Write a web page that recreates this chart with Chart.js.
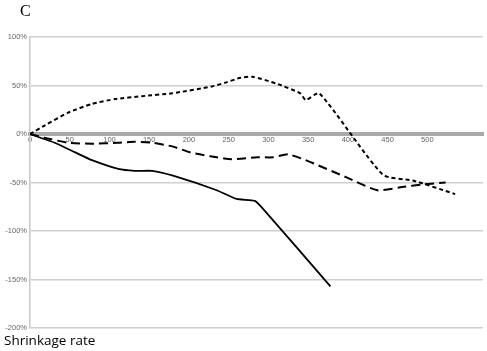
<!DOCTYPE html>
<html lang="en">
<head>
  <meta charset="UTF-8" />
  <title>Shrinkage rate - C</title>
  <script src="https://cdn.jsdelivr.net/npm/chart.js"></script>
  <style>
    body { margin: 0; background: #fff; }
    .wrap { position: relative; width: 487px; height: 351px; }
    .panel { position: absolute; left: 20px; top: 2px; font: 16px "Liberation Serif", serif; color: #000; }
    .xtitle { position: absolute; left: 4px; top: 331px; font: 13.5px "Open Sans", sans-serif; color: #000; }
    canvas { position: absolute; left: 0; top: 0; }
  </style>
</head>
<body>
  <div class="wrap">
    <canvas id="chart" width="487" height="351"></canvas>
    <div class="panel">C</div>
    <div class="xtitle">Shrinkage rate</div>
  </div>

  <script>
    // values (x = days, y = %)
    const upperX = [0, 19, 48, 78, 107, 141, 179, 229, 246, 265, 280, 310, 340, 347, 364, 444, 482, 535];
    const upperY = [0, 9, 22, 31, 36, 39, 42, 49, 53, 58, 59, 52, 42, 35, 42, -42, -48, -62];

    const middleX = [0, 19, 48, 78, 111, 132, 154, 180, 202, 227, 254, 286, 306, 325, 353, 399, 437, 466, 495, 523];
    const middleY = [0, -4, -9, -10, -9, -8, -9, -13, -19, -23, -26, -24, -24, -21, -29, -45, -58, -55, -52, -50];

    const solidX = [0, 31, 57, 78, 111, 132, 154, 180, 235, 260, 283, 293, 378];
    const solidY = [0, -9, -19, -27, -36, -38, -38, -43, -58, -67, -69, -77, -157];

    const xTicks = [0, 50, 100, 150, 200, 250, 300, 350, 400, 450, 500];
    const yTicks = [100, 50, 0, -50, -100, -150, -200];

    function pts(xs, ys) {
      return xs.map((x, i) => ({ x: x, y: ys[i] }));
    }

    const ctx = document.getElementById("chart").getContext("2d");

    new Chart(ctx, {
      type: "scatter",
      data: {
        datasets: [
          {
            data: pts(upperX, upperY),
            borderColor: "#000",
            borderWidth: 2,
            borderDash: [4, 3],
            showLine: true,
            pointRadius: 0,
            tension: 0.2,
          },
          {
            data: pts(middleX, middleY),
            borderColor: "#000",
            borderWidth: 2,
            borderDash: [9, 5],
            showLine: true,
            pointRadius: 0,
            tension: 0.2,
          },
          {
            data: pts(solidX, solidY),
            borderColor: "#000",
            borderWidth: 1.8,
            showLine: true,
            pointRadius: 0,
            tension: 0.15,
          },
        ],
      },
      options: {
        responsive: false,
        animation: false,
        layout: { padding: { top: 37, right: 4, bottom: 23, left: 0 } },
        plugins: { legend: { display: false }, tooltip: { enabled: false } },
        scales: {
          x: {
            type: "linear",
            position: { y: 0 },
            min: 0,
            max: 570,
            afterBuildTicks: (axis) => { axis.ticks = xTicks.map((v) => ({ value: v })); },
            ticks: { color: "#666", font: { size: 7.5, family: "Liberation Sans" }, padding: 1, maxRotation: 0 },
            grid: { display: false, drawTicks: false },
            border: { color: "#aaa", width: 4 },
          },
          y: {
            min: -200,
            max: 100,
            afterBuildTicks: (axis) => { axis.ticks = yTicks.map((v) => ({ value: v })); },
            afterFit: (axis) => { axis.width = 30; },
            ticks: {
              color: "#666",
              font: { size: 7.5, family: "Liberation Sans" },
              padding: 3,
              callback: (v) => v + "%",
            },
            grid: { color: "#d0d0d0", lineWidth: 1.5, drawTicks: false },
            border: { color: "#c8c8c8", width: 1.5 },
          },
        },
      },
    });
  </script>
</body>
</html>
